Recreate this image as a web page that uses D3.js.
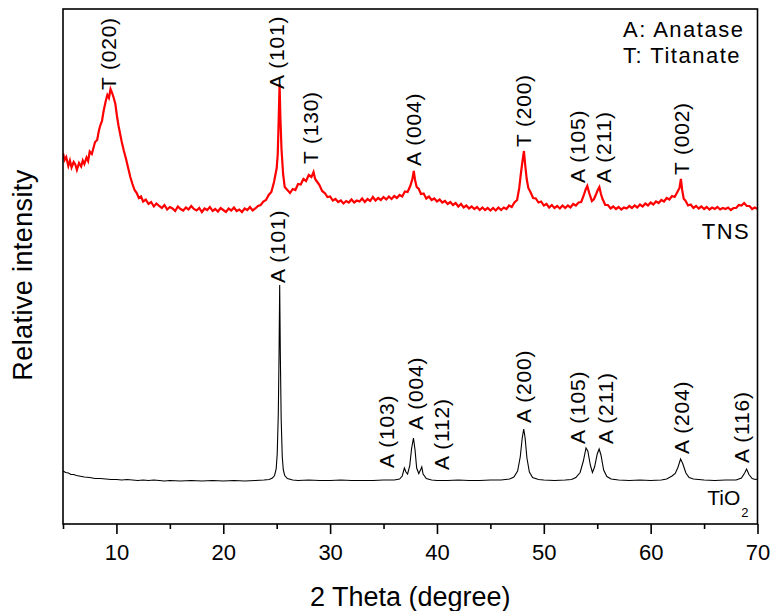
<!DOCTYPE html>
<html>
<head>
<meta charset="utf-8">
<script src="https://cdn.jsdelivr.net/npm/d3@7"></script>
<style>
  body { margin: 0; background: #fff; }
  text { font-family: "Liberation Sans", Arial, sans-serif; fill: #000; }
</style>
</head>
<body>
<div id="chart"></div>
<script>
// 2 theta (degree), intensity in a.u. (TNS pattern is stacked above TiO2)
const tio2 = [
  [5.0,106],[5.25,103],[5.5,102],[5.75,99],[6.0,99],[6.25,97],[6.5,96],[6.75,95],[7.0,94],[7.5,93],
  [8.0,91],[8.5,91],[9.0,90],[9.5,89],[10,89],[10.5,88],[11,89],[11.5,88],[12,87],[12.5,88],[13,87],
  [13.5,88],[14,87],[14.5,86],[15,87],[16,86],[17,87],[18,86],[19,87],[20,86],[21,87],[22,86],[23,87],
  [23.8,88],[24.3,89],[24.6,92],[24.8,97],[24.95,110],[25.05,140],[25.15,220],[25.22,340],[25.28,478],
  [25.34,340],[25.42,210],[25.52,135],[25.62,108],[25.75,97],[26,91],[26.5,88],[27,87],[28,88],[29,87],
  [30,87],[31,88],[32,87],[33,87],[34,87],[35,88],[36,88],[36.5,90],[36.75,96],[36.95,112],[37.1,104],
  [37.25,100],[37.45,116],[37.62,150],[37.8,172],[37.95,148],[38.1,112],[38.3,101],[38.5,110],[38.58,114],
  [38.7,100],[39.0,91],[39.5,88],[40,87],[41,87],[42,88],[43,87],[44,87],[45,88],[46,88],[46.8,90],
  [47.2,94],[47.55,106],[47.8,135],[47.98,172],[48.12,190],[48.25,172],[48.42,132],[48.65,104],[48.95,93],
  [49.5,89],[50,88],[51,87],[52,88],[52.6,89],[53.0,93],[53.4,103],[53.7,126],[53.95,152],[54.12,146],
  [54.35,118],[54.55,103],[54.75,114],[55.0,140],[55.18,150],[55.35,138],[55.6,108],[55.9,95],[56.3,90],
  [57,88],[58,87],[59,88],[60,87],[61,88],[61.5,90],[62.0,96],[62.3,101],[62.55,113],[62.8,130],[63.0,121],
  [63.3,102],[63.6,93],[64,90],[65,88],[66,87],[67,88],[68,88],[68.5,92],[68.8,102],[68.98,110],[69.2,99],
  [69.5,91],[69.8,89],[70,90]
];

const tns = [
  [5.0,742],[5.15,728],[5.3,734],[5.5,716],[5.65,727],[5.8,713],[6.0,724],[6.15,719],[6.3,708],[6.5,722],
  [6.7,715],[6.85,727],[7.0,720],[7.2,733],[7.35,726],[7.5,745],[7.7,740],[7.85,752],[8.0,764],[8.2,768],
  [8.35,786],[8.5,798],[8.65,806],[8.8,826],[9.0,846],[9.15,858],[9.3,852],[9.45,870],[9.6,862],[9.75,852],
  [9.9,840],[10.05,816],[10.2,796],[10.35,780],[10.5,764],[10.7,746],[10.9,730],[11.1,712],[11.3,694],
  [11.5,680],[11.7,668],[11.9,662],[12.1,652],[12.3,655],[12.5,645],[12.75,649],[13.0,640],[13.25,644],
  [13.5,635],[13.75,641],[14.0,636],[14.25,632],[14.5,638],[14.75,629],[15.0,634],[15.25,631],[15.5,626],
  [15.75,635],[16.0,630],[16.25,627],[16.5,633],[16.75,629],[17.0,636],[17.25,630],[17.5,627],[17.75,632],
  [18.0,624],[18.25,631],[18.5,628],[18.75,634],[19.0,626],[19.25,630],[19.5,625],[19.75,632],[20.0,628],
  [20.25,624],[20.5,631],[20.75,627],[21.0,633],[21.25,626],[21.5,629],[21.75,624],[22.0,631],[22.25,628],
  [22.5,634],[22.75,627],[23.0,631],[23.25,636],[23.5,638],[23.75,645],[24.0,648],[24.25,658],[24.5,664],
  [24.75,684],[25.0,712],[25.1,740],[25.2,820],[25.27,880],[25.35,810],[25.45,750],[25.6,700],[25.75,674],
  [26.0,668],[26.25,662],[26.5,670],[26.75,668],[27.0,680],[27.25,679],[27.5,690],[27.75,686],[28.0,698],
  [28.25,694],[28.45,704],[28.6,690],[28.8,684],[29.0,678],[29.25,666],[29.5,662],[29.75,654],[30.0,655],
  [30.25,647],[30.5,650],[30.75,644],[31.0,647],[31.25,641],[31.5,646],[31.75,643],[32.0,649],[32.25,643],
  [32.5,647],[32.75,645],[33.0,651],[33.25,644],[33.5,650],[33.75,646],[34.0,654],[34.25,647],[34.5,652],
  [34.75,648],[35.0,654],[35.25,649],[35.5,655],[35.75,650],[36.0,656],[36.25,652],[36.5,658],[36.75,655],
  [37.0,665],[37.25,664],[37.5,676],[37.7,690],[37.83,706],[37.95,688],[38.1,674],[38.3,670],[38.5,660],
  [38.75,661],[39.0,651],[39.25,655],[39.5,648],[39.75,651],[40.0,645],[40.25,649],[40.5,643],[40.75,646],
  [41.0,640],[41.25,644],[41.5,638],[41.75,642],[42.0,635],[42.25,640],[42.5,633],[42.75,637],[43.0,631],
  [43.25,635],[43.5,630],[43.75,634],[44.0,628],[44.25,633],[44.5,628],[44.75,632],[45.0,627],[45.25,632],
  [45.5,627],[45.75,633],[46.0,628],[46.25,633],[46.5,630],[46.75,637],[47.0,634],[47.25,643],[47.5,648],
  [47.7,672],[47.85,700],[48.0,725],[48.14,746],[48.25,720],[48.4,690],[48.55,672],[48.75,664],[49.0,652],
  [49.25,651],[49.5,643],[49.75,645],[50.0,637],[50.25,640],[50.5,633],[50.75,638],[51.0,632],[51.25,636],
  [51.5,631],[51.75,637],[52.0,632],[52.25,637],[52.5,633],[52.75,640],[53.0,637],[53.25,643],[53.5,644],
  [53.75,658],[53.9,668],[54.07,676],[54.25,662],[54.5,646],[54.7,650],[54.9,660],[55.05,668],[55.2,674],
  [55.35,660],[55.5,650],[55.75,638],[56.0,638],[56.25,631],[56.5,635],[56.75,630],[57.0,634],[57.25,629],
  [57.5,633],[57.75,631],[58.0,636],[58.25,632],[58.5,637],[58.75,633],[59.0,639],[59.25,635],[59.5,641],
  [59.75,637],[60.0,643],[60.25,639],[60.5,645],[60.75,642],[61.0,648],[61.25,645],[61.5,652],[61.75,649],
  [62.0,656],[62.25,654],[62.5,664],[62.7,672],[62.83,690],[62.95,668],[63.1,650],[63.25,647],[63.5,637],
  [63.75,639],[64.0,632],[64.25,636],[64.5,631],[64.75,635],[65.0,630],[65.25,634],[65.5,629],[65.75,633],
  [66.0,630],[66.25,634],[66.5,629],[66.75,632],[67.0,630],[67.25,633],[67.5,628],[67.75,632],[68.0,632],
  [68.25,638],[68.5,637],[68.75,642],[69.0,636],[69.25,636],[69.5,630],[69.75,633],[70.0,630]
];

// peak labels: text, 2 theta, intensity where the label starts
const tnsLabels = [
  ["T (020)", 9.31, 868], ["A (101)", 24.98, 870], ["T (130)", 28.2, 720], ["A (004)", 37.78, 716],
  ["T (200)", 48.08, 754], ["A (105)", 53.14, 682], ["A (211)", 55.58, 682], ["T (002)", 62.94, 698]
];
const tio2Labels = [
  ["A (101)", 25.06, 482], ["A (103)", 35.28, 112], ["A (004)", 37.97, 188], ["A (112)", 40.42, 108],
  ["A (200)", 48.12, 202], ["A (105)", 53.19, 160], ["A (211)", 55.8, 160], ["A (204)", 62.94, 140],
  ["A (116)", 68.56, 122]
];

const majorTicks = [10, 20, 30, 40, 50, 60, 70];
const minorTicks = [5, 15, 25, 35, 45, 55, 65];
const legendLines = ["A: Anatase", "T: Titanate"];

const W = 776, H = 611;
const margin = { top: 9, right: 18.5, bottom: 87, left: 63 };
const width = W - margin.left - margin.right;
const height = H - margin.top - margin.bottom;

const svg = d3.select("#chart")
  .append("svg")
  .attr("width", W)
  .attr("height", H)
  .append("g")
  .attr("transform", `translate(${margin.left}, ${margin.top})`);

const x = d3.scaleLinear().domain([5, 70]).range([0, width]);
const y = d3.scaleLinear().domain([0, 1030]).range([height, 0]);

svg.append("clipPath").attr("id", "clip")
  .append("rect").attr("width", width).attr("height", height);

const line = d3.line().x(d => x(d[0])).y(d => y(d[1]));

svg.append("path")
  .datum(tio2)
  .attr("clip-path", "url(#clip)")
  .attr("fill", "none")
  .attr("stroke", "#000")
  .attr("stroke-width", 1.1)
  .attr("d", line);

svg.append("path")
  .datum(tns)
  .attr("clip-path", "url(#clip)")
  .attr("fill", "none")
  .attr("stroke", "#ff0000")
  .attr("stroke-width", 2.2)
  .attr("stroke-linejoin", "miter")
  .attr("d", line);

// axes
const xAxis = d3.axisBottom(x).tickValues(majorTicks).tickSize(10).tickSizeOuter(0).tickPadding(10);
const xMinor = d3.axisBottom(x).tickValues(minorTicks).tickSize(5).tickSizeOuter(0).tickFormat("");

const gx = svg.append("g").attr("transform", `translate(0, ${height})`).call(xAxis);
const gm = svg.append("g").attr("transform", `translate(0, ${height})`).call(xMinor);
[gx, gm].forEach(g => {
  g.select(".domain").remove();
  g.selectAll("line").attr("stroke", "#000").attr("stroke-width", 1.6);
});
gx.selectAll("text")
  .style("font-size", "22px")
  .style("font-family", "'Liberation Sans', Arial, sans-serif")
  .attr("fill", "#000");

svg.append("rect")
  .attr("width", width)
  .attr("height", height)
  .attr("fill", "none")
  .attr("stroke", "#000")
  .attr("stroke-width", 1.6);

// axis titles
svg.append("text")
  .attr("x", width / 2)
  .attr("y", 597)
  .attr("text-anchor", "middle")
  .style("font-size", "27px")
  .text("2 Theta (degree)");

svg.append("text")
  .attr("transform", `translate(${32 - margin.left}, ${275 - margin.top}) rotate(-90)`)
  .attr("text-anchor", "middle")
  .style("font-size", "27px")
  .style("letter-spacing", "0.4px")
  .text("Relative intensity");

// peak labels
const peakLabels = svg.append("g");
peakLabels.selectAll("text")
  .data(tnsLabels.concat(tio2Labels))
  .join("text")
  .attr("transform", d => `translate(${x(d[1])}, ${y(d[2])}) rotate(-90)`)
  .attr("dy", "0.35em")
  .style("font-size", "21px")
  .style("letter-spacing", "0.8px")
  .text(d => d[0]);

// legend
svg.selectAll(".legend")
  .data(legendLines)
  .join("text")
  .attr("class", "legend")
  .attr("x", 560)
  .attr("y", (d, i) => 28 + i * 26)
  .style("font-size", "22px")
  .style("letter-spacing", "1.5px")
  .text(d => d);

// series names
svg.append("text")
  .attr("x", 638.7)
  .attr("y", 230.3)
  .style("font-size", "22px")
  .style("letter-spacing", "1.5px")
  .text("TNS");

const tio2Name = svg.append("text")
  .attr("x", 644.3)
  .attr("y", 496)
  .style("font-size", "21px");
tio2Name.append("tspan").text("TiO");
tio2Name.append("tspan").attr("dx", 1).attr("dy", 12).style("font-size", "13px").text("2");
</script>
</body>
</html>
